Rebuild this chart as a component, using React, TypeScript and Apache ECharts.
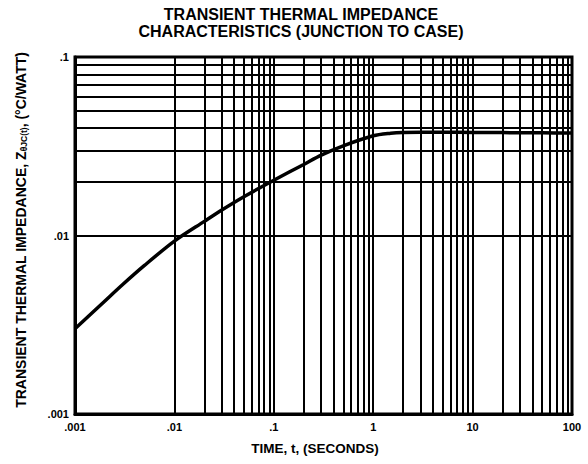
import React, { useEffect, useRef } from "react";
import * as echarts from "echarts";

const timeValues = [0.001, 0.002, 0.003, 0.005, 0.01, 0.02, 0.03, 0.05, 0.1, 0.2, 0.3, 0.5, 1, 1.5, 2, 3, 5, 10, 20, 50, 100];
const impedanceValues = [0.003, 0.0043, 0.0053, 0.0068, 0.0093, 0.012, 0.0139, 0.0165, 0.0204, 0.025, 0.0282, 0.0318, 0.0362, 0.0374, 0.0378, 0.0379, 0.0379, 0.0378, 0.0377, 0.0376, 0.0375];

const xTickValues = [0.001, 0.01, 0.1, 1, 10, 100];
const xTickLabels = [".001", ".01", ".1", "1", "10", "100"];
const yTickValues = [0.001, 0.01, 0.1];
const yTickLabels = [".001", ".01", ".1"];

const xDecades = [0.001, 0.01, 0.1, 1, 10];
const yDecades = [0.001, 0.01];
const minorMultipliers = [2, 3, 4, 5, 6, 7, 8, 9];

const titleLines = ["TRANSIENT THERMAL IMPEDANCE", "CHARACTERISTICS (JUNCTION TO CASE)"];
const xAxisName = "TIME, t, (SECONDS)";

const FONT = "'Liberation Sans', Arial, sans-serif";

function labelFor(values: number[], labels: string[], v: number): string {
  const i = values.findIndex((t) => Math.abs(t - v) / t < 1e-6);
  return i >= 0 ? labels[i] : "";
}

export default function App() {
  const ref = useRef<HTMLDivElement>(null);

  useEffect(() => {
    if (!ref.current) return;
    const chart = echarts.init(ref.current, undefined, { renderer: "svg" });

    const xMinor: number[] = [];
    xDecades.forEach((d) => minorMultipliers.forEach((m) => xMinor.push(+(d * m).toPrecision(6))));
    const yMinor: number[] = [];
    yDecades.forEach((d) => minorMultipliers.forEach((m) => yMinor.push(+(d * m).toPrecision(6))));

    const lineStyle = { color: "#000", width: 2, type: "solid" as const };

    chart.setOption({
      animation: false,
      backgroundColor: "#fff",
      grid: {
        left: 75,
        right: 16,
        top: 57,
        bottom: 50,
        show: true,
        borderColor: "#000",
        borderWidth: 3,
        backgroundColor: "transparent",
      },
      xAxis: {
        type: "log",
        logBase: 10,
        min: 0.001,
        max: 100,
        axisLine: { show: true, lineStyle: { color: "#000", width: 3 } },
        axisTick: { show: false },
        splitLine: { show: true, lineStyle },
        axisLabel: {
          color: "#000",
          fontFamily: FONT,
          fontWeight: "bold",
          fontSize: 11,
          margin: 7,
          formatter: (v: number) => labelFor(xTickValues, xTickLabels, v),
        },
      },
      yAxis: {
        type: "log",
        logBase: 10,
        min: 0.001,
        max: 0.1,
        axisLine: { show: true, lineStyle: { color: "#000", width: 3 } },
        axisTick: { show: false },
        splitLine: { show: true, lineStyle },
        axisLabel: {
          color: "#000",
          fontFamily: FONT,
          fontWeight: "bold",
          fontSize: 11,
          margin: 6,
          formatter: (v: number) => labelFor(yTickValues, yTickLabels, v),
        },
      },
      graphic: [
        {
          type: "text",
          x: 301,
          y: 6,
          style: {
            text: titleLines.join("\n"),
            fill: "#000",
            font: `bold 16px ${FONT}`,
            textAlign: "center",
            lineHeight: 17,
          },
        },
        {
          type: "text",
          x: 315,
          y: 448,
          style: {
            text: xAxisName,
            fill: "#000",
            font: `bold 13.5px ${FONT}`,
            textAlign: "center",
            textVerticalAlign: "middle",
          },
        },
        {
          type: "text",
          x: 21,
          y: 230,
          rotation: Math.PI / 2,
          style: {
            text: "TRANSIENT THERMAL IMPEDANCE, Z{sub|θJC(t)}, (°C/WATT)",
            fill: "#000",
            font: `bold 14px ${FONT}`,
            textAlign: "center",
            textVerticalAlign: "middle",
            rich: {
              sub: {
                fontSize: 8.5,
                fontWeight: "bold",
                fontFamily: FONT,
                fill: "#000",
                verticalAlign: "bottom",
                padding: [5, 0, 0, 0],
              },
            },
          },
        },
      ],
      series: [
        {
          type: "line",
          data: [],
          silent: true,
          markLine: {
            silent: true,
            symbol: "none",
            label: { show: false },
            lineStyle,
            data: [
              ...xMinor.map((v) => ({ xAxis: v })),
              ...yMinor.map((v) => ({ yAxis: v })),
            ],
          },
        },
        {
          type: "line",
          data: timeValues.map((t, i) => [t, impedanceValues[i]]),
          smooth: 0.3,
          showSymbol: false,
          symbol: "none",
          lineStyle: { color: "#000", width: 3.5 },
          z: 5,
        },
      ],
    });

    return () => chart.dispose();
  }, []);

  return (
    <div
      ref={ref}
      style={{ position: "fixed", left: 0, top: 0, width: 588, height: 464 }}
    />
  );
}
